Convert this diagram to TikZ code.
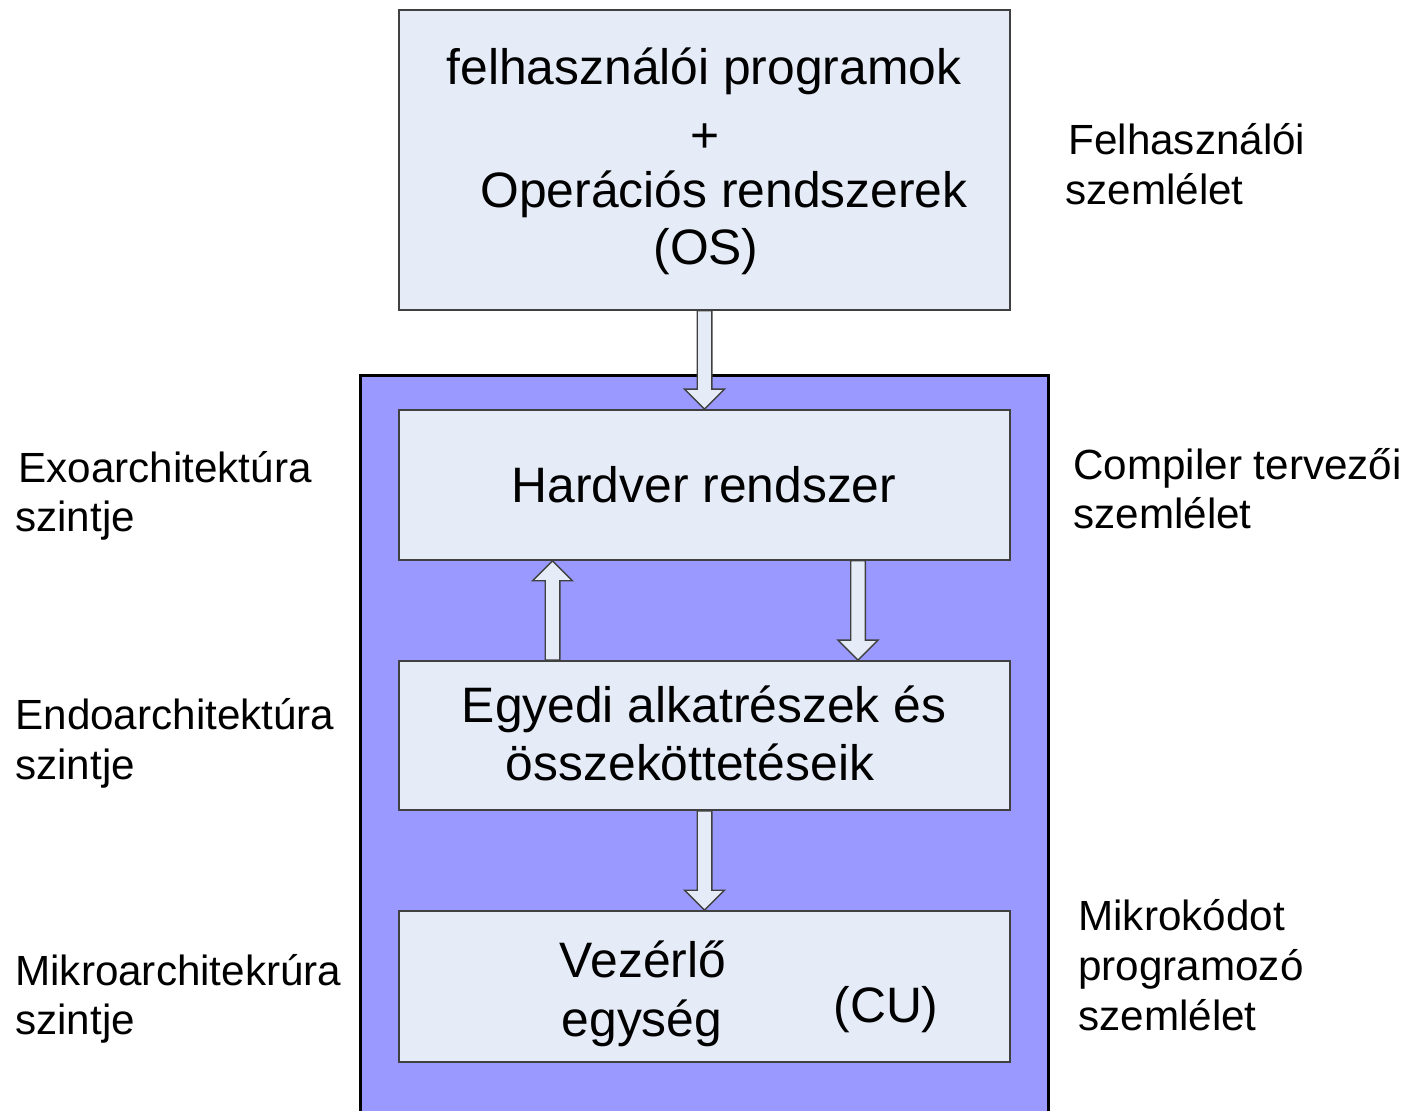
\documentclass[tikz,border=0pt]{standalone}
\usepackage{fontspec}
\setmainfont{Liberation Sans}
\usetikzlibrary{calc}
\definecolor{boxfill}{RGB}{230,236,247}
\definecolor{panel}{RGB}{153,153,255}
\definecolor{edge}{RGB}{64,64,64}

% block arrow pointing down from point #1 to the height of point #2
\newcommand{\blockdown}[2]{%
  \draw[barrow] let \p1=(#1), \p2=(#2) in
    (\x1-3.65pt,\y1) -- (\x1+3.65pt,\y1) -- (\x1+3.65pt,\y2+10pt) --
    (\x1+10pt,\y2+10pt) -- (\x1,\y2) -- (\x1-10pt,\y2+10pt) --
    (\x1-3.65pt,\y2+10pt) -- cycle;}
% block arrow pointing up from point #1 to the height of point #2
\newcommand{\blockup}[2]{%
  \draw[barrow] let \p1=(#1), \p2=(#2) in
    (\x1-3.65pt,\y1) -- (\x1+3.65pt,\y1) -- (\x1+3.65pt,\y2-10pt) --
    (\x1+10pt,\y2-10pt) -- (\x1,\y2) -- (\x1-10pt,\y2-10pt) --
    (\x1-3.65pt,\y2-10pt) -- cycle;}

\begin{document}
\begin{tikzpicture}[x=0.5pt,y=-0.5pt,
  box/.style={draw=edge, line width=0.8pt, fill=boxfill, inner sep=0pt,
    minimum width=305.5pt},
  barrow/.style={draw=edge, line width=0.7pt, fill=boxfill, line join=miter},
  maintxt/.style={inner sep=0pt, anchor=base, font=\fontsize{24.9}{30}\selectfont},
  sidetxt/.style={inner sep=0pt, anchor=base west, font=\fontsize{21.1}{25}\selectfont}]
\useasboundingbox (0,0) rectangle (1408,1111);

% background panel of the hardware levels
\node[draw=black, line width=1.5pt, fill=panel, inner sep=0pt,
  minimum width=344pt, minimum height=372pt] (panel) at (704,748) {};

% boxes
\node[box, minimum height=150pt] (os) at (704.5,160) {};
\node[box, minimum height=75pt] (hw) at (704.5,485) {};
\node[box, minimum height=74.5pt] (parts) at (704.5,735.5) {};
\node[box, minimum height=75.5pt] (cu) at (704.5,986.5) {};

% box texts
\node[maintxt] (os1) at (704,85) {felhasználói programok};
\node[maintxt] (os2) at (705,153) {+};
\node[maintxt] (os3) at (724,208) {Operációs rendszerek};
\node[maintxt] (os4) at (706,265) {(OS)};
\node[maintxt] (hw1) at (704,503) {Hardver rendszer};
\node[maintxt] (pt1) at (704,723) {Egyedi alkatrészek és};
\node[maintxt] (pt2) at (690,781) {összeköttetéseik};
\node[maintxt] (cu1) at (643,977) {Vezérlő};
\node[maintxt] (cu2) at (642,1036) {egység};
\node[maintxt] (cu3) at (886,1022) {(CU)};

% connecting block arrows
\blockdown{os.south}{hw.north}
\blockup{$(parts.north)+(-152,0)$}{hw.south}
\blockdown{$(hw.south)+(153.5,0)$}{parts.north}
\blockdown{parts.south}{cu.north}

% right-hand labels
\node[sidetxt] (r1) at (1068,155) {Felhasználói};
\node[sidetxt] (r2) at (1065,205) {szemlélet};
\node[sidetxt] (r3) at (1073,480) {Compiler tervezői};
\node[sidetxt] (r4) at (1073,529) {szemlélet};
\node[sidetxt] (r5) at (1078,930) {Mikrokódot};
\node[sidetxt] (r6) at (1078,980) {programozó};
\node[sidetxt] (r7) at (1078,1030) {szemlélet};

% left-hand labels
\node[sidetxt] (l1) at (18,483) {Exoarchitektúra};
\node[sidetxt] (l2) at (15,532) {szintje};
\node[sidetxt] (l3) at (15,730) {Endoarchitektúra};
\node[sidetxt] (l4) at (15,780) {szintje};
\node[sidetxt] (l5) at (15,985) {Mikroarchitekrúra};
\node[sidetxt] (l6) at (15,1034) {szintje};
\end{tikzpicture}
\end{document}
